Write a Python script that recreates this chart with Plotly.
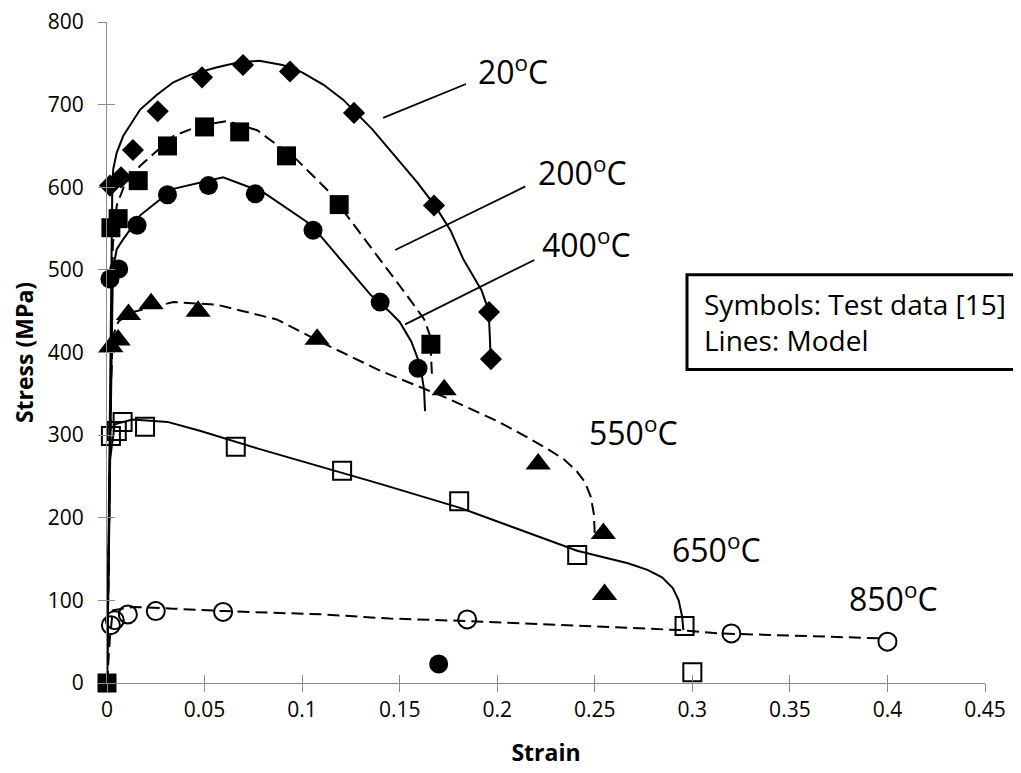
import plotly.graph_objects as go

# ---------------- data ----------------
# Test data (symbols)
t20_x = [0.0015, 0.0072, 0.0133, 0.026, 0.0487, 0.0697, 0.0938, 0.1266, 0.1676, 0.1958, 0.1968]
t20_y = [602, 612, 645, 692, 733, 748, 740, 690, 578, 449, 392]

t200_x = [0.0, 0.002, 0.0057, 0.016, 0.031, 0.05, 0.068, 0.092, 0.119, 0.166]
t200_y = [0, 551, 562, 608, 650, 673, 667, 638, 579, 410]

t400_x = [0.0015, 0.006, 0.0154, 0.031, 0.052, 0.076, 0.1056, 0.14, 0.1594, 0.170]
t400_y = [489, 501, 554, 591, 602, 592, 548, 461, 381, 23]

t550_x = [0.002, 0.0057, 0.011, 0.0226, 0.0467, 0.1077, 0.1728, 0.221, 0.2544, 0.255]
t550_y = [407, 415, 446, 459, 450, 416, 355, 265, 181, 107]

t650_x = [0.002, 0.005, 0.008, 0.0195, 0.066, 0.1205, 0.1805, 0.241, 0.296, 0.300]
t650_y = [299, 305, 316, 310, 286, 257, 220, 155, 69, 13]

t850_x = [0.002, 0.004, 0.0107, 0.025, 0.0595, 0.1846, 0.32, 0.4]
t850_y = [70, 76, 83, 87, 86, 77, 60, 50]

# Model curves (lines)
m20_x = [0, 0.0024, 0.0027, 0.0032, 0.005, 0.0083, 0.017, 0.0256, 0.034, 0.0425, 0.056, 0.067, 0.078,
         0.09, 0.1, 0.111, 0.121, 0.136, 0.149, 0.159, 0.168, 0.176, 0.1826, 0.188, 0.192, 0.1945,
         0.1958, 0.1963, 0.1966]
m20_y = [0, 540, 598, 622, 642, 662, 694, 712, 727, 736, 745, 751, 753,
         748, 739, 724, 706, 670, 634, 606, 578, 548, 513, 492, 475, 458,
         440, 415, 392]

m200_x = [0, 0.0025, 0.003, 0.005, 0.009, 0.017, 0.034, 0.048, 0.0615, 0.077, 0.097, 0.114,
          0.136, 0.155, 0.1626, 0.1656, 0.1666]
m200_y = [0, 500, 530, 578, 603, 626, 662, 675, 680, 669, 634, 594,
          525, 465, 440, 420, 370]

m400_x = [0, 0.0025, 0.003, 0.005, 0.008, 0.017, 0.034, 0.0595, 0.08, 0.1025, 0.1077, 0.135,
          0.145, 0.150, 0.156, 0.1605, 0.1625, 0.163]
m400_y = [0, 430, 500, 525, 536, 566, 598, 612, 594, 558, 546, 470,
          449, 437, 413, 385, 355, 329]

m550_x = [0, 0.002, 0.003, 0.006, 0.0133, 0.034, 0.056, 0.087, 0.111, 0.14, 0.174, 0.2,
          0.215, 0.226, 0.234, 0.2405, 0.245, 0.248, 0.2495, 0.25]
m550_y = [0, 360, 420, 438, 449, 461, 458, 440, 411, 378, 345, 317,
          298, 283, 271, 257, 243, 225, 205, 181]

m650_x = [0, 0.0015, 0.004, 0.013, 0.031, 0.048, 0.077, 0.14, 0.181, 0.241, 0.255, 0.267,
          0.277, 0.2845, 0.29, 0.293, 0.2948, 0.2954]
m650_y = [0, 270, 313, 319, 316, 305, 284, 241, 212, 160, 152, 145,
          137, 128, 115, 100, 80, 64]

m850_x = [0, 0.0015, 0.003, 0.0133, 0.034, 0.06, 0.111, 0.145, 0.1846, 0.294, 0.314, 0.398]
m850_y = [0, 55, 88, 92, 90, 87, 83, 78, 75, 64, 60, 54]

x_ticks = [0, 0.05, 0.1, 0.15, 0.2, 0.25, 0.3, 0.35, 0.4, 0.45]
x_tick_text = ["0", "0.05", "0.1", "0.15", "0.2", "0.25", "0.3", "0.35", "0.4", "0.45"]
y_ticks = [0, 100, 200, 300, 400, 500, 600, 700, 800]

labels = ["20<sup>o</sup>C", "200<sup>o</sup>C", "400<sup>o</sup>C",
          "550<sup>o</sup>C", "650<sup>o</sup>C", "850<sup>o</sup>C"]
label_x = [0.208, 0.2436, 0.2456, 0.2697, 0.3123, 0.403]
label_y = [742, 620, 532, 305, 164, 104]

leader_x0 = [0.1415, 0.1477, 0.1528]
leader_y0 = [684, 524, 434]
leader_x1 = [0.184, 0.2144, 0.219]
leader_y1 = [725, 601, 512]

# ---------------- figure ----------------
FONT = "Open Sans, Noto Sans, sans-serif"
GREY = "#8c8c8c"
DASH = "12px,6px"

fig = go.Figure()

def model(x, y, dash):
    fig.add_trace(go.Scatter(x=x, y=y, mode="lines",
                             line=dict(color="black", width=2, dash=dash),
                             hoverinfo="skip", showlegend=False))

def test(x, y, symbol, size, lw=0):
    fig.add_trace(go.Scatter(x=x, y=y, mode="markers", cliponaxis=False,
                             marker=dict(symbol=symbol, size=size, color="black",
                                         line=dict(color="black", width=lw)),
                             showlegend=False))

model(m20_x, m20_y, "solid")
model(m200_x, m200_y, DASH)
model(m400_x, m400_y, "solid")
model(m550_x, m550_y, DASH)
model(m650_x, m650_y, "solid")
model(m850_x, m850_y, DASH)

test(t20_x, t20_y, "diamond", 17)
test(t200_x, t200_y, "square", 19)
test(t400_x, t400_y, "circle", 19)
test(t550_x, t550_y, "triangle-up", 22)
test(t650_x, t650_y, "square-open", 18, 2)
test(t850_x, t850_y, "circle-open", 18, 2)

# dummy trace for the overlay axes carrying the inward half of the tick marks
fig.add_trace(go.Scatter(x=[None], y=[None], xaxis="x2", yaxis="y2",
                         mode="markers", showlegend=False, hoverinfo="skip"))

for t, x, y in zip(labels, label_x, label_y):
    fig.add_annotation(x=x, y=y, xref="x", yref="y", text=t, showarrow=False,
                       font=dict(family=FONT, size=32, color="black"))

for x0, y0, x1, y1 in zip(leader_x0, leader_y0, leader_x1, leader_y1):
    fig.add_shape(type="line", x0=x0, y0=y0, x1=x1, y1=y1, xref="x", yref="y",
                  line=dict(color="black", width=1.8))

# note box
fig.add_shape(type="rect", xref="paper", yref="paper",
              x0=0.6606, x1=1.0387, y0=0.4744, y1=0.6175,
              line=dict(color="black", width=3), fillcolor="white", layer="above")
fig.add_annotation(xref="paper", yref="paper", x=0.678, y=0.546, xanchor="left",
                   yanchor="middle", align="left", showarrow=False,
                   text="Symbols: Test data [15]<br>Lines: Model",
                   font=dict(family=FONT, size=28, color="black"))

axis_common = dict(showgrid=False, zeroline=False, tickcolor=GREY, ticklen=8, tickwidth=1,
                   automargin=False, ticklabeloverflow="allow")

fig.update_layout(
    width=1021, height=773,
    margin=dict(l=99, r=44, t=14, b=98, autoexpand=False),
    paper_bgcolor="white", plot_bgcolor="white",
    font=dict(family=FONT, color="black"),
    xaxis=dict(range=[0, 0.45], tickvals=x_ticks, ticktext=x_tick_text,
               ticks="outside", showline=True, linecolor=GREY, linewidth=1,
               tickfont=dict(family=FONT, size=21, color="black"),
               title=dict(text="<b>Strain</b>", font=dict(family=FONT, size=23, color="black"),
                          standoff=22),
               **axis_common),
    yaxis=dict(range=[0, 800], tickvals=y_ticks,
               ticks="outside", showline=True, linecolor=GREY, linewidth=1,
               tickfont=dict(family=FONT, size=21, color="black"),
               ticklabelstandoff=10,
               title=dict(text="<b>Stress (MPa)</b>", font=dict(family=FONT, size=23, color="black"),
                          standoff=9),
               **axis_common),
    xaxis2=dict(range=[0, 0.45], tickvals=x_ticks, ticks="inside", overlaying="x",
                anchor="y2", showticklabels=False, showline=False, **axis_common),
    yaxis2=dict(range=[0, 800], tickvals=y_ticks, ticks="inside", overlaying="y",
                anchor="x2", showticklabels=False, showline=False, **axis_common),
)

fig.write_html("out.html")
